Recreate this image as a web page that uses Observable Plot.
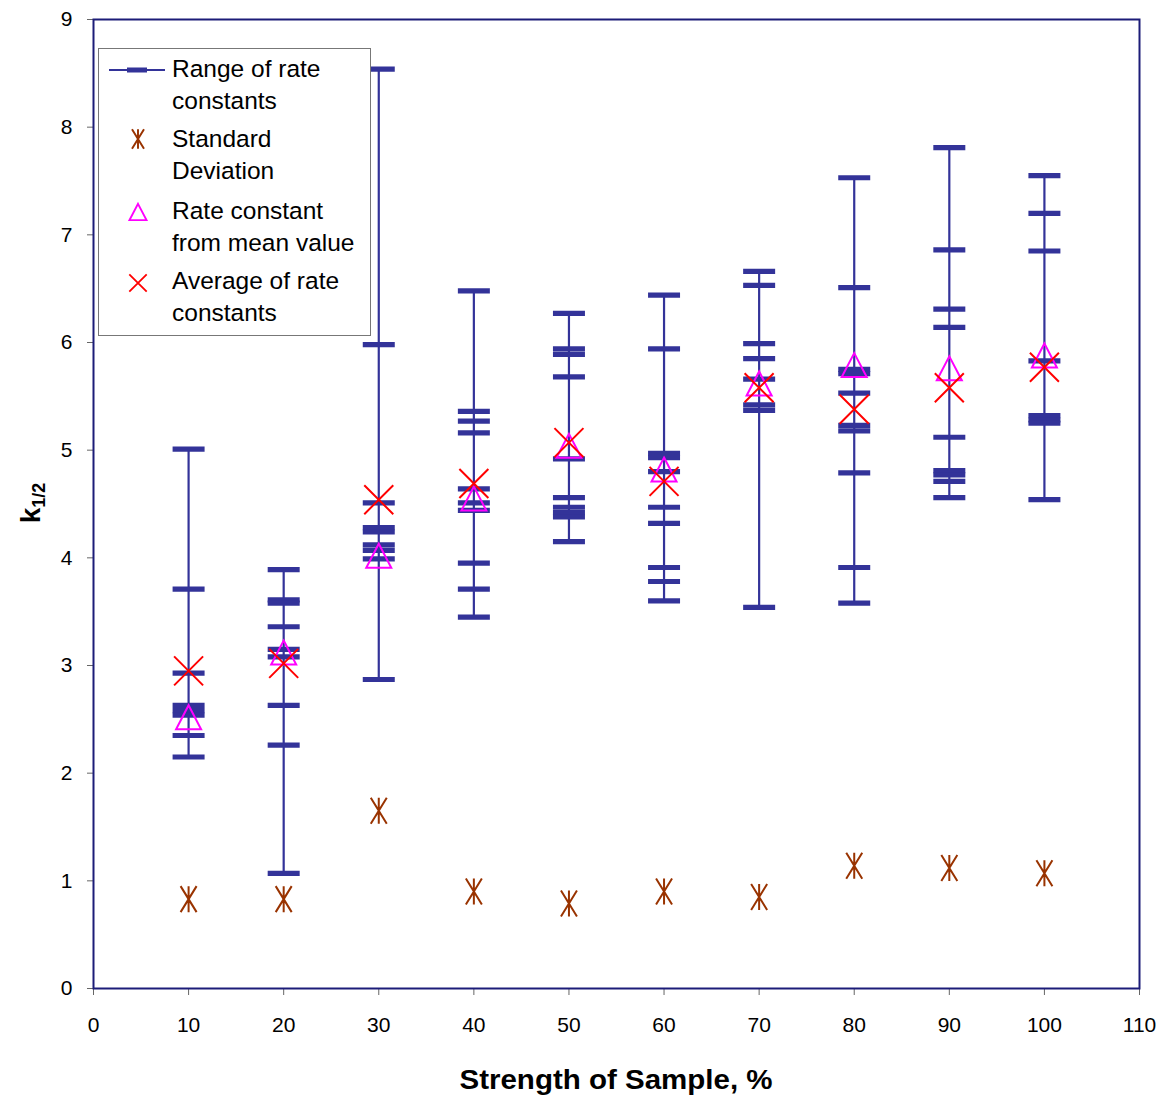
<!DOCTYPE html>
<html>
<head>
<meta charset="utf-8">
<script src="https://cdn.jsdelivr.net/npm/d3@7"></script>
<script src="https://cdn.jsdelivr.net/npm/@observablehq/plot@0.6"></script>
<style>
  body { margin: 0; background: #fff; }
  #wrap { position: relative; width: 1172px; height: 1099px; font-family: "Liberation Sans", Arial, sans-serif; }
  #legend { position: absolute; left: 98px; top: 48px; width: 271px; height: 286px; border: 1px solid #777; background: #fff; box-sizing: content-box; }
  #legend .item { position: absolute; left: 73px; font-size: 24.5px; line-height: 32px; color: #000; white-space: nowrap; }
  #legend svg { position: absolute; left: 0; top: 0; }
</style>
</head>
<body>
<div id="wrap"></div>
<script>
// ---- data ----
const strength = [10, 20, 30, 40, 50, 60, 70, 80, 90, 100];
const rateValues = [
  [5.01, 3.71, 2.93, 2.63, 2.58, 2.54, 2.35, 2.15],
  [3.89, 3.61, 3.58, 3.36, 3.15, 3.08, 2.63, 2.26, 1.07],
  [8.54, 5.98, 4.51, 4.28, 4.24, 4.12, 4.07, 3.99, 2.87],
  [6.48, 5.36, 5.27, 5.16, 4.64, 4.51, 4.44, 3.95, 3.71, 3.45],
  [6.27, 5.94, 5.89, 5.68, 4.92, 4.56, 4.47, 4.42, 4.38, 4.15],
  [6.44, 5.94, 4.97, 4.93, 4.80, 4.47, 4.32, 3.91, 3.78, 3.60],
  [6.66, 6.53, 5.99, 5.85, 5.66, 5.42, 5.37, 3.54],
  [7.53, 6.51, 5.75, 5.71, 5.53, 5.23, 5.18, 4.79, 3.91, 3.58],
  [7.81, 6.86, 6.31, 6.14, 5.12, 4.81, 4.77, 4.71, 4.56],
  [7.55, 7.20, 6.85, 5.83, 5.32, 5.28, 5.25, 4.54]
];
const stdDev = [0.83, 0.83, 1.65, 0.90, 0.79, 0.90, 0.85, 1.14, 1.12, 1.07];
const rateFromMean = [2.52, 3.12, 4.02, 4.55, 5.04, 4.82, 5.62, 5.79, 5.76, 5.88];
const avgRate = [2.95, 3.02, 4.54, 4.69, 5.07, 4.71, 5.58, 5.38, 5.58, 5.77];
const xTicks = [0, 10, 20, 30, 40, 50, 60, 70, 80, 90, 100, 110];
const yTicks = [0, 1, 2, 3, 4, 5, 6, 7, 8, 9];

// ---- tables ----
const ranges = strength.map((s, i) => ({x: s, lo: d3.min(rateValues[i]), hi: d3.max(rateValues[i])}));
const points = strength.flatMap((s, i) => rateValues[i].map(v => ({x: s, y: v})));
const stats = strength.map((s, i) => ({x: s, sd: stdDev[i], mean: rateFromMean[i], avg: avgRate[i]}));

// ---- symbols ----
const hbar = {draw(ctx) { ctx.rect(-16, -2.6, 32, 5.2); }};
const star = {draw(ctx) {
  ctx.moveTo(-8, -13); ctx.lineTo(8, 13);
  ctx.moveTo(8, -13); ctx.lineTo(-8, 13);
  ctx.moveTo(0, -13); ctx.lineTo(0, 13);
}};
const cross = {draw(ctx) {
  ctx.moveTo(-14.5, -14.5); ctx.lineTo(14.5, 14.5);
  ctx.moveTo(14.5, -14.5); ctx.lineTo(-14.5, 14.5);
}};
const tri = {draw(ctx) {
  ctx.moveTo(0, -12); ctx.lineTo(12.5, 12); ctx.lineTo(-12.5, 12); ctx.closePath();
}};

const navy = "#333399";

const chart = Plot.plot({
  width: 1172,
  height: 1099,
  marginLeft: 93,
  marginRight: 33,
  marginTop: 19,
  marginBottom: 111,
  style: {fontFamily: "'Liberation Sans', Arial, sans-serif", fontSize: "20px", color: "#000", background: "#fff"},
  x: {domain: [0, 110], ticks: xTicks},
  y: {domain: [0, 9], ticks: yTicks},
  marks: [
    Plot.axisX({ticks: xTicks, tickSize: 7, tickPadding: 22, label: null, stroke: "#666", fontSize: 21}),
    Plot.axisY({ticks: yTicks, tickSize: 6, tickPadding: 15, label: null, stroke: "#666", fontSize: 21}),
    Plot.ruleX(ranges, {x: "x", y1: "lo", y2: "hi", stroke: navy, strokeWidth: 2.2}),
    Plot.dot(points, {x: "x", y: "y", symbol: hbar, fill: navy, stroke: "none", r: 1}),
    Plot.dot(stats, {x: "x", y: "sd", symbol: star, stroke: "#993300", strokeWidth: 2, fill: "none", r: 1}),
    Plot.dot(stats, {x: "x", y: "mean", symbol: tri, stroke: "#ff00ff", strokeWidth: 2, fill: "none", r: 1}),
    Plot.dot(stats, {x: "x", y: "avg", symbol: cross, stroke: "#ff0000", strokeWidth: 2, fill: "none", r: 1}),
    Plot.frame({stroke: "#1c1c78", strokeWidth: 2})
  ]
});

const wrap = document.getElementById("wrap");
wrap.appendChild(chart);

// axis titles
const svg = d3.select(chart);
svg.append("text")
  .attr("x", 616).attr("y", 1089)
  .attr("text-anchor", "middle")
  .attr("font-family", "'Liberation Sans', Arial, sans-serif")
  .attr("font-weight", "bold").attr("font-size", 28)
  .attr("textLength", 313).attr("lengthAdjust", "spacingAndGlyphs")
  .attr("fill", "#000")
  .text("Strength of Sample, %");
const yl = svg.append("text")
  .attr("transform", "translate(40,503) rotate(-90)")
  .attr("text-anchor", "middle")
  .attr("font-family", "'Liberation Sans', Arial, sans-serif")
  .attr("font-weight", "bold").attr("font-size", 28)
  .attr("fill", "#000");
yl.append("tspan").text("k");
yl.append("tspan").attr("font-size", 18).attr("dy", 5).text("1/2");

// legend
const legendItems = [
  {lines: ["Range of rate", "constants"], top: 4},
  {lines: ["Standard", "Deviation"], top: 74},
  {lines: ["Rate constant", "from mean value"], top: 146},
  {lines: ["Average of rate", "constants"], top: 216}
];
const lg = document.createElement("div");
lg.id = "legend";
wrap.appendChild(lg);
for (const it of legendItems) {
  const d = document.createElement("div");
  d.className = "item";
  d.style.top = it.top + "px";
  d.innerHTML = it.lines.join("<br>");
  lg.appendChild(d);
}
const ls = d3.select(lg).append("svg").attr("width", 271).attr("height", 286);
ls.append("line").attr("x1", 10).attr("x2", 66).attr("y1", 21).attr("y2", 21).attr("stroke", navy).attr("stroke-width", 2);
ls.append("rect").attr("x", 28).attr("y", 18.5).attr("width", 20).attr("height", 5).attr("fill", navy);
ls.append("path").attr("d", d3.symbol(star)()).attr("transform", "translate(39,90) scale(0.75)").attr("stroke", "#993300").attr("stroke-width", 2.6).attr("fill", "none");
ls.append("path").attr("d", d3.symbol(tri)()).attr("transform", "translate(39,163) scale(0.68)").attr("stroke", "#ff00ff").attr("stroke-width", 2.8).attr("fill", "none");
ls.append("path").attr("d", d3.symbol(cross)()).attr("transform", "translate(39,234) scale(0.6)").attr("stroke", "#ff0000").attr("stroke-width", 3).attr("fill", "none");
</script>
</body>
</html>
